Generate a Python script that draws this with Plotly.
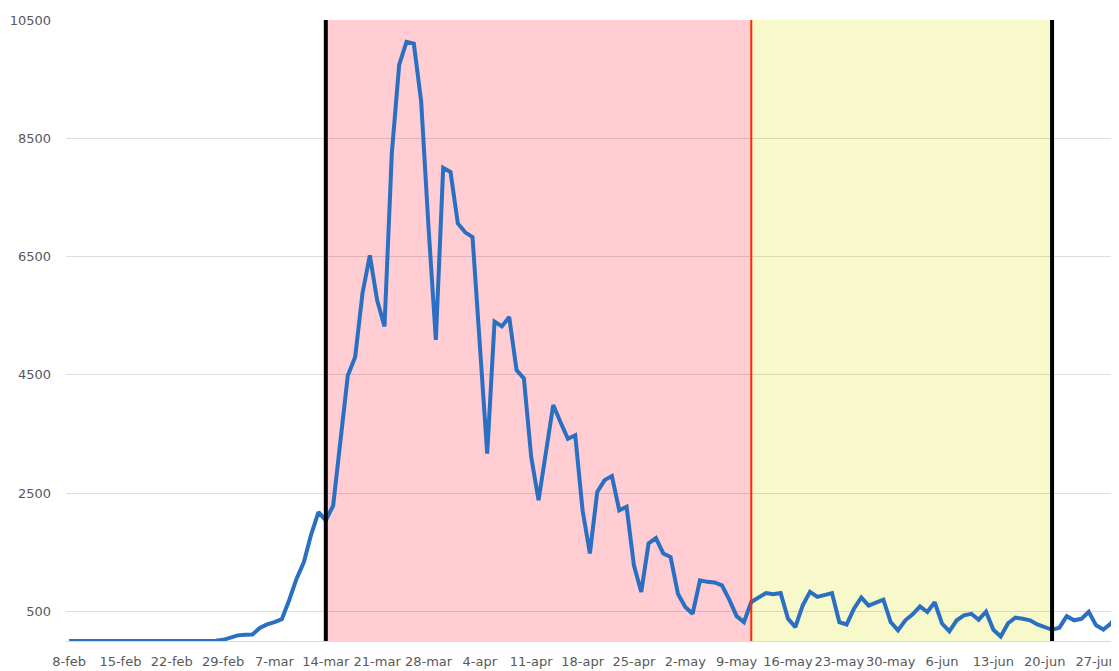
import pandas as pd
import plotly.graph_objects as go

# ---- data (daily new cases) ----
start_date = "2020-02-08"
daily_cases = [
    0, 0, 0, 0, 0, 0, 0, 0, 0, 0,
    0, 0, 0, 0, 0, 0, 0, 0, 0, 0,
    5, 20, 60, 95, 105, 110, 220, 280, 320, 370,
    690, 1050, 1330, 1800, 2180, 2040, 2290, 3400, 4490, 4800,
    5880, 6520, 5760, 5320, 8250, 9740, 10130, 10100, 9120, 7000,
    5090, 8000, 7930, 7060, 6910, 6830, 5000, 3170, 5400, 5320,
    5480, 4580, 4440, 3110, 2380, 3180, 3990, 3700, 3420, 3480,
    2210, 1480, 2520, 2720, 2790, 2210, 2270, 1280, 830, 1650,
    1740, 1480, 1420, 800, 575, 460, 1025, 1000, 990, 940,
    700, 420, 320, 660, 740, 810, 790, 810, 380, 235,
    600, 830, 745, 780, 810, 320, 280, 545, 735, 600,
    650, 700, 320, 180, 350, 450, 585, 490, 655, 295,
    165, 350, 435, 460, 360, 495, 190, 75, 300, 395,
    375, 350, 280, 230, 190, 225, 420, 350, 375, 495,
    265, 195, 295, 475,
]
dates = pd.date_range(start_date, periods=len(daily_cases), freq="D")

tick_dates = ["2020-02-08", "2020-02-15", "2020-02-22", "2020-02-29", "2020-03-07",
              "2020-03-14", "2020-03-21", "2020-03-28", "2020-04-04", "2020-04-11",
              "2020-04-18", "2020-04-25", "2020-05-02", "2020-05-09", "2020-05-16",
              "2020-05-23", "2020-05-30", "2020-06-06", "2020-06-13", "2020-06-20",
              "2020-06-27"]
tick_labels = ["8-feb", "15-feb", "22-feb", "29-feb", "7-mar", "14-mar", "21-mar",
               "28-mar", "4-apr", "11-apr", "18-apr", "25-apr", "2-may", "9-may",
               "16-may", "23-may", "30-may", "6-jun", "13-jun", "20-jun", "27-jun"]

y_ticks = [500, 2500, 4500, 6500, 8500, 10500]

# period boundaries
lockdown_start = "2020-03-14"
phase_start = "2020-05-11"
alarm_end = "2020-06-21"

x_range = ["2020-02-07 14:00", "2020-06-30 03:00"]

fig = go.Figure()
fig.add_trace(go.Scatter(
    x=dates, y=daily_cases, mode="lines",
    line=dict(color="#2A6FC2", width=4, shape="linear"),
    hoverinfo="x+y", showlegend=False,
))

# shaded periods
fig.add_shape(type="rect", xref="x", yref="paper", x0=lockdown_start, x1=phase_start,
              y0=0, y1=1, fillcolor="rgb(255,205,210)", line_width=0, layer="below")
fig.add_shape(type="rect", xref="x", yref="paper", x0=phase_start, x1=alarm_end,
              y0=0, y1=1, fillcolor="rgb(247,249,202)", line_width=0, layer="below")
# vertical markers
fig.add_shape(type="line", xref="x", yref="paper", x0=lockdown_start, x1=lockdown_start,
              y0=0, y1=1, line=dict(color="black", width=4), layer="above")
fig.add_shape(type="line", xref="x", yref="paper", x0=phase_start, x1=phase_start,
              y0=0, y1=1, line=dict(color="#FF2A00", width=2), layer="above")
fig.add_shape(type="line", xref="x", yref="paper", x0=alarm_end, x1=alarm_end,
              y0=0, y1=1, line=dict(color="black", width=4), layer="above")

font = dict(family="DejaVu Sans", size=13, color="#595959")

# the page body adds an 8px offset; the figure is sized to fill the window exactly
fig.update_layout(
    width=1111, height=663,
    margin=dict(l=58, r=0, t=12, b=30, autoexpand=False),
    paper_bgcolor="white", plot_bgcolor="white",
    showlegend=False,
    font=font,
    xaxis=dict(
        type="date", range=x_range, automargin=False,
        tickmode="array", tickvals=tick_dates, ticktext=tick_labels,
        tickangle=0,
        showgrid=False, zeroline=False,
        showline=True, linecolor="#D9D9D9", linewidth=1,
        ticks="", ticklabelstandoff=8, tickfont=font,
    ),
    yaxis=dict(
        range=[0, 10500], automargin=False,
        tickmode="array", tickvals=y_ticks,
        ticktext=[str(v) for v in y_ticks],
        showgrid=True, gridcolor="rgba(0,0,0,0.13)", gridwidth=1,
        zeroline=False, showline=False,
        ticks="", ticklabelstandoff=14, tickfont=font,
    ),
)

fig.write_html("out.html", config={"displayModeBar": False})
